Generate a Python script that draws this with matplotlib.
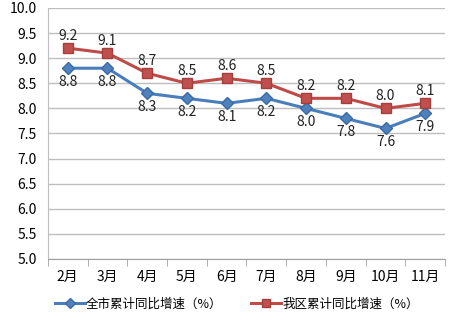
import matplotlib
matplotlib.use("Agg")
import matplotlib.pyplot as plt

plt.rcParams['font.family'] = ['Noto Sans CJK SC', 'DejaVu Sans']

months = ["2月", "3月", "4月", "5月", "6月", "7月", "8月", "9月", "10月", "11月"]
city = [8.8, 8.8, 8.3, 8.2, 8.1, 8.2, 8.0, 7.8, 7.6, 7.9]
district = [9.2, 9.1, 8.7, 8.5, 8.6, 8.5, 8.2, 8.2, 8.0, 8.1]
city_name = "全市累计同比增速（%）"
district_name = "我区累计同比增速（%）"

fig = plt.figure(figsize=(4.74, 3.32), dpi=100)
ax = fig.add_axes([0.101, 0.22, 0.838, 0.756])

x = list(range(len(months)))
ax.plot(x, city, color="#4A7EBB", lw=2.2, marker="D", ms=6,
        mfc="#4F81BD", mec="#3C6AA5", label=city_name, zorder=3)
ax.plot(x, district, color="#BE4B48", lw=2.2, marker="s", ms=7.5,
        mfc="#C0504D", mec="#A33F3C", label=district_name, zorder=3)

for i, v in enumerate(city):
    ax.annotate(f"{v:.1f}", (i, v), xytext=(0, -5), textcoords="offset points",
                ha="center", va="top", fontsize=10, color="#222222")
for i, v in enumerate(district):
    ax.annotate(f"{v:.1f}", (i, v), xytext=(0, 4), textcoords="offset points",
                ha="center", va="bottom", fontsize=10, color="#222222")

ax.set_xlim(-0.5, len(months) - 0.5)
ax.set_ylim(5.0, 10.0)
ax.set_yticks([5.0 + 0.5 * k for k in range(11)])
ax.set_yticklabels([f"{5.0 + 0.5 * k:.1f}" for k in range(11)], fontsize=10)
ax.set_xticks(x)
ax.set_xticklabels(months, fontsize=10)
ax.set_xticks([i - 0.5 for i in range(len(months) + 1)], minor=True)
ax.tick_params(axis="x", which="major", length=0, pad=8)
ax.tick_params(axis="x", which="minor", length=5, color="#A0A0A0")
ax.tick_params(axis="y", length=0, pad=8)

ax.grid(axis="y", color="#BEBEBE", lw=1)
ax.set_axisbelow(True)
for side in ["top", "right"]:
    ax.spines[side].set_visible(False)
ax.spines["left"].set_color("#BEBEBE")
ax.spines["bottom"].set_color("#A0A0A0")

fig.legend(loc="lower center", bbox_to_anchor=(0.5, 0.03), ncol=2, frameon=False,
           fontsize=9, handlelength=2.4, columnspacing=2.3, handletextpad=0.1,
           markerscale=0.8)

fig.savefig("out.png", dpi=100)
